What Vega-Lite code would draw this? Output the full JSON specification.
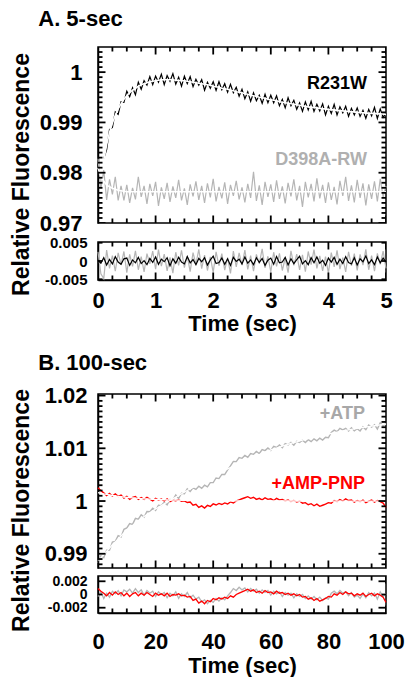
{
"$schema": "https://vega.github.io/schema/vega-lite/v6.json",
"padding": {"left": 9, "top": 8, "right": 5, "bottom": 0},
"config": {
 "font": "Liberation Sans",
 "view": {"stroke": "black", "strokeWidth": 1.5},
 "axis": {"domainColor": "black", "domainWidth": 1.5, "ticks": false, "tickSize": 0, "labelColor": "black", "labelFontWeight": "bold", "labelFont": "Liberation Sans", "titleFont": "Liberation Sans", "titleFontWeight": "bold", "titleColor": "black", "grid": false, "labelOverlap": false, "labelFlush": false},
 "tick": {"thickness": 1.8, "color": "black", "opacity": 1},
 "title": {"font": "Liberation Sans", "fontWeight": "bold", "fontSize": 22, "color": "black", "anchor": "start"}
},
"datasets": {
 "tx5": [{"v":0,"m":"M"},{"v":0.25,"m":"m"},{"v":0.5,"m":"m"},{"v":0.75,"m":"m"},{"v":1,"m":"M"},{"v":1.25,"m":"m"},{"v":1.5,"m":"m"},{"v":1.75,"m":"m"},{"v":2,"m":"M"},{"v":2.25,"m":"m"},{"v":2.5,"m":"m"},{"v":2.75,"m":"m"},{"v":3,"m":"M"},{"v":3.25,"m":"m"},{"v":3.5,"m":"m"},{"v":3.75,"m":"m"},{"v":4,"m":"M"},{"v":4.25,"m":"m"},{"v":4.5,"m":"m"},{"v":4.75,"m":"m"},{"v":5,"m":"M"}],
 "tx100": [{"v":0,"m":"M"},{"v":5,"m":"m"},{"v":10,"m":"m"},{"v":15,"m":"m"},{"v":20,"m":"M"},{"v":25,"m":"m"},{"v":30,"m":"m"},{"v":35,"m":"m"},{"v":40,"m":"M"},{"v":45,"m":"m"},{"v":50,"m":"m"},{"v":55,"m":"m"},{"v":60,"m":"M"},{"v":65,"m":"m"},{"v":70,"m":"m"},{"v":75,"m":"m"},{"v":80,"m":"M"},{"v":85,"m":"m"},{"v":90,"m":"m"},{"v":95,"m":"m"},{"v":100,"m":"M"}],
 "tyA": [{"v":0.97,"m":"M"},{"v":0.971,"m":"m"},{"v":0.972,"m":"m"},{"v":0.973,"m":"m"},{"v":0.974,"m":"m"},{"v":0.975,"m":"m"},{"v":0.976,"m":"m"},{"v":0.977,"m":"m"},{"v":0.978,"m":"m"},{"v":0.979,"m":"m"},{"v":0.98,"m":"M"},{"v":0.981,"m":"m"},{"v":0.982,"m":"m"},{"v":0.983,"m":"m"},{"v":0.984,"m":"m"},{"v":0.985,"m":"m"},{"v":0.986,"m":"m"},{"v":0.987,"m":"m"},{"v":0.988,"m":"m"},{"v":0.989,"m":"m"},{"v":0.99,"m":"M"},{"v":0.991,"m":"m"},{"v":0.992,"m":"m"},{"v":0.993,"m":"m"},{"v":0.994,"m":"m"},{"v":0.995,"m":"m"},{"v":0.996,"m":"m"},{"v":0.997,"m":"m"},{"v":0.998,"m":"m"},{"v":0.999,"m":"m"},{"v":1,"m":"M"},{"v":1.001,"m":"m"},{"v":1.002,"m":"m"},{"v":1.003,"m":"m"},{"v":1.004,"m":"m"}],
 "tyB": [{"v":0.988,"m":"m"},{"v":0.989,"m":"m"},{"v":0.99,"m":"M"},{"v":0.991,"m":"m"},{"v":0.992,"m":"m"},{"v":0.993,"m":"m"},{"v":0.994,"m":"m"},{"v":0.995,"m":"m"},{"v":0.996,"m":"m"},{"v":0.997,"m":"m"},{"v":0.998,"m":"m"},{"v":0.999,"m":"m"},{"v":1,"m":"M"},{"v":1.001,"m":"m"},{"v":1.002,"m":"m"},{"v":1.003,"m":"m"},{"v":1.004,"m":"m"},{"v":1.005,"m":"m"},{"v":1.006,"m":"m"},{"v":1.007,"m":"m"},{"v":1.008,"m":"m"},{"v":1.009,"m":"m"},{"v":1.01,"m":"M"},{"v":1.011,"m":"m"},{"v":1.012,"m":"m"},{"v":1.013,"m":"m"},{"v":1.014,"m":"m"},{"v":1.015,"m":"m"},{"v":1.016,"m":"m"},{"v":1.017,"m":"m"},{"v":1.018,"m":"m"},{"v":1.019,"m":"m"},{"v":1.02,"m":"M"}],
 "tyRA": [{"v":-0.005,"m":"m"},{"v":0,"m":"m"},{"v":0.005,"m":"m"}],
 "tyRB": [{"v":-0.002,"m":"M"},{"v":0,"m":"m"},{"v":0.002,"m":"M"}],
 "A": [
{"t":0,"k":null,"f":null,"g":0.9828,"h":0.981,"rk":0.0002,"rg":0.0025},
{"t":0.05,"k":null,"f":null,"g":0.9768,"h":0.9793,"rk":-0.0006,"rg":-0.0035},
{"t":0.1,"k":0.9828,"f":0.9825,"g":0.9805,"h":0.9783,"rk":0.0009,"rg":-0.0048},
{"t":0.15,"k":0.9846,"f":0.9856,"g":0.9746,"h":0.9776,"rk":-0.0011,"rg":0.003},
{"t":0.2,"k":0.9886,"f":0.988,"g":0.9787,"h":0.9772,"rk":0.0004,"rg":-0.002},
{"t":0.25,"k":0.989,"f":0.9899,"g":0.9757,"h":0.9769,"rk":-0.0008,"rg":0.0015},
{"t":0.3,"k":0.9921,"f":0.9914,"g":0.9792,"h":0.9767,"rk":0.0012,"rg":-0.0028},
{"t":0.35,"k":0.9916,"f":0.9927,"g":0.9745,"h":0.9765,"rk":-0.0003,"rg":0.0022},
{"t":0.4,"k":0.9941,"f":0.9937,"g":0.9774,"h":0.9764,"rk":-0.0009,"rg":-0.001},
{"t":0.45,"k":0.994,"f":0.9946,"g":0.9745,"h":0.9763,"rk":0.0006,"rg":0.0026},
{"t":0.5,"k":0.9962,"f":0.9953,"g":0.9776,"h":0.9762,"rk":0.0008,"rg":-0.0032},
{"t":0.55,"k":0.9951,"f":0.9959,"g":0.974,"h":0.9762,"rk":-0.0012,"rg":0.0018},
{"t":0.6,"k":0.9969,"f":0.9964,"g":0.977,"h":0.9762,"rk":0.0003,"rg":-0.0015},
{"t":0.65,"k":0.9955,"f":0.9968,"g":0.9747,"h":0.9762,"rk":-0.0005,"rg":0.0028},
{"t":0.7,"k":0.998,"f":0.9972,"g":0.9792,"h":0.9762,"rk":0.001,"rg":-0.0024},
{"t":0.75,"k":0.9966,"f":0.9975,"g":0.9752,"h":0.9762,"rk":-0.0007,"rg":0.0012},
{"t":0.8,"k":0.9983,"f":0.9977,"g":0.9774,"h":0.9762,"rk":0.0001,"rg":-0.003},
{"t":0.85,"k":0.9974,"f":0.9979,"g":0.9738,"h":0.9762,"rk":-0.001,"rg":0.002},
{"t":0.9,"k":0.9991,"f":0.9981,"g":0.9778,"h":0.9762,"rk":0.0007,"rg":-0.0008},
{"t":0.95,"k":0.9975,"f":0.9982,"g":0.9754,"h":0.9762,"rk":-0.0004,"rg":0.0027},
{"t":1,"k":0.9992,"f":0.9983,"g":0.9782,"h":0.9762,"rk":0.0011,"rg":-0.0022},
{"t":1.05,"k":0.998,"f":0.9984,"g":0.9734,"h":0.9762,"rk":-0.0009,"rg":0.0031},
{"t":1.1,"k":0.9996,"f":0.9985,"g":0.9771,"h":0.9762,"rk":0.0005,"rg":-0.0014},
{"t":1.15,"k":0.9975,"f":0.9985,"g":0.9748,"h":0.9762,"rk":-0.0002,"rg":0.0019},
{"t":1.2,"k":0.9993,"f":0.9985,"g":0.978,"h":0.9762,"rk":0.0009,"rg":-0.0027},
{"t":1.25,"k":0.9982,"f":0.9985,"g":0.9742,"h":0.9762,"rk":-0.0013,"rg":0.001},
{"t":1.3,"k":0.9997,"f":0.9985,"g":0.9773,"h":0.9762,"rk":0.0006,"rg":-0.0033},
{"t":1.35,"k":0.9976,"f":0.9984,"g":0.975,"h":0.9762,"rk":-0.0006,"rg":0.0024},
{"t":1.4,"k":0.999,"f":0.9984,"g":0.9786,"h":0.9762,"rk":0.001,"rg":-0.0012},
{"t":1.45,"k":0.9972,"f":0.9983,"g":0.9745,"h":0.9762,"rk":-0.0003,"rg":0.0029},
{"t":1.5,"k":0.9992,"f":0.9983,"g":0.9769,"h":0.9762,"rk":-0.0008,"rg":-0.0018},
{"t":1.55,"k":0.9977,"f":0.9982,"g":0.9736,"h":0.9762,"rk":0.0012,"rg":0.0014},
{"t":1.6,"k":0.9991,"f":0.9981,"g":0.9777,"h":0.9762,"rk":-0.0005,"rg":-0.0029},
{"t":1.65,"k":0.9971,"f":0.998,"g":0.9753,"h":0.9762,"rk":0.0004,"rg":0.0023},
{"t":1.7,"k":0.9986,"f":0.9979,"g":0.9783,"h":0.9762,"rk":-0.001,"rg":-0.0009},
{"t":1.75,"k":0.9974,"f":0.9978,"g":0.9746,"h":0.9762,"rk":0.0007,"rg":0.0032},
{"t":1.8,"k":0.9985,"f":0.9977,"g":0.9774,"h":0.9762,"rk":-0.0002,"rg":-0.0021},
{"t":1.85,"k":0.9964,"f":0.9976,"g":0.974,"h":0.9762,"rk":0.0009,"rg":0.0016},
{"t":1.9,"k":0.998,"f":0.9975,"g":0.9779,"h":0.9762,"rk":-0.0011,"rg":-0.0026},
{"t":1.95,"k":0.9968,"f":0.9974,"g":0.9751,"h":0.9762,"rk":0.0003,"rg":0.0011},
{"t":2,"k":0.9981,"f":0.9972,"g":0.9788,"h":0.9762,"rk":0.0013,"rg":-0.0031},
{"t":2.05,"k":0.9964,"f":0.9971,"g":0.9743,"h":0.9762,"rk":-0.0007,"rg":0.0025},
{"t":2.1,"k":0.9981,"f":0.997,"g":0.9772,"h":0.9762,"rk":-0.0004,"rg":-0.0013},
{"t":2.15,"k":0.9965,"f":0.9968,"g":0.9749,"h":0.9762,"rk":0.0008,"rg":0.002},
{"t":2.2,"k":0.9977,"f":0.9967,"g":0.9781,"h":0.9762,"rk":-0.0009,"rg":-0.0025},
{"t":2.25,"k":0.996,"f":0.9966,"g":0.9738,"h":0.9762,"rk":0.0006,"rg":0.0009},
{"t":2.3,"k":0.9976,"f":0.9964,"g":0.9776,"h":0.9762,"rk":-0.0012,"rg":-0.0034},
{"t":2.35,"k":0.9959,"f":0.9963,"g":0.9754,"h":0.9762,"rk":0.001,"rg":0.0027},
{"t":2.4,"k":0.997,"f":0.9961,"g":0.9784,"h":0.9762,"rk":-0.0001,"rg":-0.0016},
{"t":2.45,"k":0.9952,"f":0.996,"g":0.9747,"h":0.9762,"rk":0.0005,"rg":0.0022},
{"t":2.5,"k":0.9966,"f":0.9959,"g":0.9771,"h":0.9762,"rk":-0.0008,"rg":-0.0011},
{"t":2.55,"k":0.9947,"f":0.9957,"g":0.9741,"h":0.9762,"rk":0.0011,"rg":0.003},
{"t":2.6,"k":0.9961,"f":0.9956,"g":0.9778,"h":0.9762,"rk":-0.0006,"rg":-0.0023},
{"t":2.65,"k":0.9942,"f":0.9954,"g":0.975,"h":0.9762,"rk":0.0003,"rg":0.0015},
{"t":2.7,"k":0.9959,"f":0.9953,"g":0.9802,"h":0.9762,"rk":-0.001,"rg":-0.0028},
{"t":2.75,"k":0.9943,"f":0.9952,"g":0.9744,"h":0.9762,"rk":0.0009,"rg":0.0018},
{"t":2.8,"k":0.9954,"f":0.995,"g":0.9775,"h":0.9762,"rk":-0.0004,"rg":-0.0007},
{"t":2.85,"k":0.9938,"f":0.9949,"g":0.9736,"h":0.9762,"rk":0.0007,"rg":0.0033},
{"t":2.9,"k":0.9956,"f":0.9948,"g":0.9782,"h":0.9762,"rk":-0.0012,"rg":-0.0019},
{"t":2.95,"k":0.9939,"f":0.9946,"g":0.9752,"h":0.9762,"rk":0.0002,"rg":0.0013},
{"t":3,"k":0.9954,"f":0.9945,"g":0.9777,"h":0.9762,"rk":0.0008,"rg":-0.003},
{"t":3.05,"k":0.9939,"f":0.9944,"g":0.9742,"h":0.9762,"rk":-0.0009,"rg":0.0024},
{"t":3.1,"k":0.9953,"f":0.9943,"g":0.9785,"h":0.9762,"rk":0.0012,"rg":-0.0015},
{"t":3.15,"k":0.9933,"f":0.9941,"g":0.9748,"h":0.9762,"rk":-0.0005,"rg":0.0021},
{"t":3.2,"k":0.9946,"f":0.994,"g":0.9773,"h":0.9762,"rk":-0.0003,"rg":-0.0026},
{"t":3.25,"k":0.9929,"f":0.9939,"g":0.9739,"h":0.9762,"rk":0.001,"rg":0.0008},
{"t":3.3,"k":0.9949,"f":0.9938,"g":0.978,"h":0.9762,"rk":-0.0011,"rg":-0.0032},
{"t":3.35,"k":0.9933,"f":0.9937,"g":0.9753,"h":0.9762,"rk":0.0006,"rg":0.0028},
{"t":3.4,"k":0.9944,"f":0.9936,"g":0.9787,"h":0.9762,"rk":-0.0007,"rg":-0.0012},
{"t":3.45,"k":0.9926,"f":0.9935,"g":0.9745,"h":0.9762,"rk":0.0004,"rg":0.0019},
{"t":3.5,"k":0.9939,"f":0.9934,"g":0.9774,"h":0.9762,"rk":0.0013,"rg":-0.0024},
{"t":3.55,"k":0.9922,"f":0.9933,"g":0.9732,"h":0.9762,"rk":-0.0008,"rg":0.0017},
{"t":3.6,"k":0.9941,"f":0.9932,"g":0.9782,"h":0.9762,"rk":0.0001,"rg":-0.0029},
{"t":3.65,"k":0.9925,"f":0.9931,"g":0.9751,"h":0.9762,"rk":-0.001,"rg":0.0026},
{"t":3.7,"k":0.9942,"f":0.993,"g":0.9778,"h":0.9762,"rk":0.0009,"rg":-0.001},
{"t":3.75,"k":0.9922,"f":0.993,"g":0.9743,"h":0.9762,"rk":-0.0005,"rg":0.0031},
{"t":3.8,"k":0.9936,"f":0.9929,"g":0.9789,"h":0.9762,"rk":0.0011,"rg":-0.002},
{"t":3.85,"k":0.9923,"f":0.9928,"g":0.9749,"h":0.9762,"rk":-0.0006,"rg":0.0014},
{"t":3.9,"k":0.9937,"f":0.9927,"g":0.9776,"h":0.9762,"rk":0.0002,"rg":-0.0027},
{"t":3.95,"k":0.9915,"f":0.9927,"g":0.974,"h":0.9762,"rk":-0.0012,"rg":0.0012},
{"t":4,"k":0.9932,"f":0.9926,"g":0.9781,"h":0.9762,"rk":0.0008,"rg":-0.0033},
{"t":4.05,"k":0.9918,"f":0.9925,"g":0.9746,"h":0.9762,"rk":-0.0003,"rg":0.0023},
{"t":4.1,"k":0.9936,"f":0.9925,"g":0.9772,"h":0.9762,"rk":0.001,"rg":-0.0016},
{"t":4.15,"k":0.9915,"f":0.9924,"g":0.9737,"h":0.9762,"rk":-0.0009,"rg":0.0029},
{"t":4.2,"k":0.9931,"f":0.9923,"g":0.9784,"h":0.9762,"rk":0.0005,"rg":-0.0022},
{"t":4.25,"k":0.9919,"f":0.9923,"g":0.9754,"h":0.9762,"rk":-0.0007,"rg":0.0009},
{"t":4.3,"k":0.9932,"f":0.9922,"g":0.9792,"h":0.9762,"rk":0.0012,"rg":-0.003},
{"t":4.35,"k":0.9912,"f":0.9922,"g":0.9744,"h":0.9762,"rk":-0.0004,"rg":0.0025},
{"t":4.4,"k":0.9928,"f":0.9921,"g":0.9775,"h":0.9762,"rk":-0.0008,"rg":-0.0013},
{"t":4.45,"k":0.9915,"f":0.9921,"g":0.9741,"h":0.9762,"rk":0.0009,"rg":0.002},
{"t":4.5,"k":0.9929,"f":0.992,"g":0.9786,"h":0.9762,"rk":-0.0011,"rg":-0.0026},
{"t":4.55,"k":0.9912,"f":0.992,"g":0.975,"h":0.9762,"rk":0.0006,"rg":0.0018},
{"t":4.6,"k":0.9924,"f":0.9919,"g":0.9779,"h":0.9762,"rk":-0.0002,"rg":-0.0011},
{"t":4.65,"k":0.9908,"f":0.9919,"g":0.9735,"h":0.9762,"rk":0.0014,"rg":0.0032},
{"t":4.7,"k":0.9926,"f":0.9918,"g":0.9777,"h":0.9762,"rk":-0.0007,"rg":-0.0024},
{"t":4.75,"k":0.9913,"f":0.9918,"g":0.9748,"h":0.9762,"rk":0.0003,"rg":0.0015},
{"t":4.8,"k":0.993,"f":0.9918,"g":0.9783,"h":0.9762,"rk":-0.001,"rg":-0.0028},
{"t":4.85,"k":0.9908,"f":0.9917,"g":0.9743,"h":0.9762,"rk":0.0011,"rg":0.0021},
{"t":4.9,"k":0.9927,"f":0.9917,"g":0.9788,"h":0.9762,"rk":-0.0005,"rg":-0.0009},
{"t":4.95,"k":0.991,"f":0.9917,"g":0.9752,"h":0.9762,"rk":0.0008,"rg":0.0027},
{"t":5,"k":0.9919,"f":0.9916,"g":0.9774,"h":0.9762,"rk":-0.0003,"rg":-0.002}
 ],
 "B": [
{"t":0,"a":0.9883,"fa":0.9886,"p":1.0025,"fp":1.0016,"ra":-0.0003,"rp":0.0009},
{"t":1,"a":0.98962,"fa":0.98922,"p":1.00197,"fp":1.00147,"ra":0.0004,"rp":0.0005},
{"t":2,"a":0.98924,"fa":0.98984,"p":1.00155,"fp":1.00135,"ra":-0.0006,"rp":0.0002},
{"t":3,"a":0.99066,"fa":0.99046,"p":1.00105,"fp":1.00125,"ra":0.0002,"rp":-0.0002},
{"t":4,"a":0.99068,"fa":0.99108,"p":1.00145,"fp":1.00115,"ra":-0.0004,"rp":0.0003},
{"t":5,"a":0.9922,"fa":0.9917,"p":1.00095,"fp":1.00105,"ra":0.0005,"rp":-0.0001},
{"t":6,"a":0.99236,"fa":0.99226,"p":1.00137,"fp":1.00097,"ra":0.0001,"rp":0.0004},
{"t":7,"a":0.99342,"fa":0.99282,"p":1.00089,"fp":1.00089,"ra":0.0006,"rp":0},
{"t":8,"a":0.99318,"fa":0.99338,"p":1.00112,"fp":1.00082,"ra":-0.0002,"rp":0.0003},
{"t":9,"a":0.99464,"fa":0.99394,"p":1.00056,"fp":1.00076,"ra":0.0007,"rp":-0.0002},
{"t":10,"a":0.9949,"fa":0.9945,"p":1.0009,"fp":1.0007,"ra":0.0004,"rp":0.0002},
{"t":11,"a":0.99574,"fa":0.99494,"p":1.00034,"fp":1.00064,"ra":0.0008,"rp":-0.0003},
{"t":12,"a":0.99558,"fa":0.99538,"p":1.00069,"fp":1.00059,"ra":0.0002,"rp":0.0001},
{"t":13,"a":0.99672,"fa":0.99582,"p":1.00084,"fp":1.00054,"ra":0.0009,"rp":0.0003},
{"t":14,"a":0.99656,"fa":0.99626,"p":1.0003,"fp":1.0005,"ra":0.0003,"rp":-0.0002},
{"t":15,"a":0.9974,"fa":0.9967,"p":1.00066,"fp":1.00046,"ra":0.0007,"rp":0.0002},
{"t":16,"a":0.99696,"fa":0.99706,"p":1.00032,"fp":1.00042,"ra":-0.0001,"rp":-0.0001},
{"t":17,"a":0.99802,"fa":0.99742,"p":1.00069,"fp":1.00039,"ra":0.0006,"rp":0.0003},
{"t":18,"a":0.99798,"fa":0.99778,"p":1.00036,"fp":1.00036,"ra":0.0002,"rp":0},
{"t":19,"a":0.99864,"fa":0.99814,"p":1.00003,"fp":1.00033,"ra":0.0005,"rp":-0.0003},
{"t":20,"a":0.9982,"fa":0.9985,"p":1.0005,"fp":1.0003,"ra":-0.0003,"rp":0.0002},
{"t":21,"a":0.99922,"fa":0.99882,"p":1.00018,"fp":1.00028,"ra":0.0004,"rp":-0.0001},
{"t":22,"a":0.99914,"fa":0.99914,"p":1.00036,"fp":1.00026,"ra":0,"rp":0.0001},
{"t":23,"a":0.99976,"fa":0.99946,"p":1.00004,"fp":1.00024,"ra":0.0003,"rp":-0.0002},
{"t":24,"a":0.99928,"fa":0.99978,"p":1.00042,"fp":1.00022,"ra":-0.0005,"rp":0.0002},
{"t":25,"a":1.0003,"fa":1.0001,"p":0.9999,"fp":1.0002,"ra":0.0002,"rp":-0.0003},
{"t":26,"a":1.00022,"fa":1.00042,"p":1.00018,"fp":1.00018,"ra":-0.0002,"rp":0},
{"t":27,"a":1.00114,"fa":1.00074,"p":1.00007,"fp":1.00017,"ra":0.0004,"rp":-0.0001},
{"t":28,"a":1.00046,"fa":1.00106,"p":1.00026,"fp":1.00016,"ra":-0.0006,"rp":0.0001},
{"t":29,"a":1.00148,"fa":1.00138,"p":0.99994,"fp":1.00014,"ra":0.0001,"rp":-0.0002},
{"t":30,"a":1.0014,"fa":1.0017,"p":1.00003,"fp":1.00013,"ra":-0.0003,"rp":-0.0001},
{"t":31,"a":1.0023,"fa":1.002,"p":0.99972,"fp":1.00012,"ra":0.0003,"rp":-0.0004},
{"t":32,"a":1.0018,"fa":1.0023,"p":0.99981,"fp":1.00011,"ra":-0.0005,"rp":-0.0003},
{"t":33,"a":1.0025,"fa":1.0026,"p":0.9992,"fp":1.0001,"ra":-0.0001,"rp":-0.0009},
{"t":34,"a":1.0022,"fa":1.0029,"p":0.99939,"fp":1.00009,"ra":-0.0007,"rp":-0.0007},
{"t":35,"a":1.0028,"fa":1.0032,"p":0.99879,"fp":1.00009,"ra":-0.0004,"rp":-0.0013},
{"t":36,"a":1.0024,"fa":1.0035,"p":0.99908,"fp":1.00008,"ra":-0.0011,"rp":-0.001},
{"t":37,"a":1.003,"fa":1.0038,"p":0.99867,"fp":1.00007,"ra":-0.0008,"rp":-0.0014},
{"t":38,"a":1.0027,"fa":1.0041,"p":0.99917,"fp":1.00007,"ra":-0.0014,"rp":-0.0009},
{"t":39,"a":1.0035,"fa":1.0044,"p":0.99896,"fp":1.00006,"ra":-0.0009,"rp":-0.0011},
{"t":40,"a":1.0035,"fa":1.0047,"p":0.99946,"fp":1.00006,"ra":-0.0012,"rp":-0.0006},
{"t":41,"a":1.00438,"fa":1.00498,"p":0.99925,"fp":1.00005,"ra":-0.0006,"rp":-0.0008},
{"t":42,"a":1.00426,"fa":1.00526,"p":0.99955,"fp":1.00005,"ra":-0.001,"rp":-0.0005},
{"t":43,"a":1.00504,"fa":1.00554,"p":0.99934,"fp":1.00004,"ra":-0.0005,"rp":-0.0007},
{"t":44,"a":1.00502,"fa":1.00582,"p":0.99964,"fp":1.00004,"ra":-0.0008,"rp":-0.0004},
{"t":45,"a":1.0059,"fa":1.0061,"p":0.99944,"fp":1.00004,"ra":-0.0002,"rp":-0.0006},
{"t":46,"a":1.00666,"fa":1.00636,"p":0.99983,"fp":1.00003,"ra":0.0003,"rp":-0.0002},
{"t":47,"a":1.00752,"fa":1.00662,"p":0.99963,"fp":1.00003,"ra":0.0009,"rp":-0.0004},
{"t":48,"a":1.00748,"fa":1.00688,"p":1.00003,"fp":1.00003,"ra":0.0006,"rp":0},
{"t":49,"a":1.00824,"fa":1.00714,"p":1.00023,"fp":1.00003,"ra":0.0011,"rp":0.0002},
{"t":50,"a":1.0081,"fa":1.0074,"p":1.00043,"fp":1.00003,"ra":0.0007,"rp":0.0004},
{"t":51,"a":1.00864,"fa":1.00764,"p":1.00062,"fp":1.00002,"ra":0.001,"rp":0.0006},
{"t":52,"a":1.00828,"fa":1.00788,"p":1.00082,"fp":1.00002,"ra":0.0004,"rp":0.0008},
{"t":53,"a":1.00902,"fa":1.00812,"p":1.00052,"fp":1.00002,"ra":0.0009,"rp":0.0005},
{"t":54,"a":1.00886,"fa":1.00836,"p":1.00072,"fp":1.00002,"ra":0.0005,"rp":0.0007},
{"t":55,"a":1.0094,"fa":1.0086,"p":1.00032,"fp":1.00002,"ra":0.0008,"rp":0.0003},
{"t":56,"a":1.00902,"fa":1.00882,"p":1.00052,"fp":1.00002,"ra":0.0002,"rp":0.0005},
{"t":57,"a":1.00974,"fa":1.00904,"p":1.00022,"fp":1.00002,"ra":0.0007,"rp":0.0002},
{"t":58,"a":1.00956,"fa":1.00926,"p":1.00062,"fp":1.00002,"ra":0.0003,"rp":0.0006},
{"t":59,"a":1.01008,"fa":1.00948,"p":1.00032,"fp":1.00002,"ra":0.0006,"rp":0.0003},
{"t":60,"a":1.0096,"fa":1.0097,"p":1.00042,"fp":1.00002,"ra":-0.0001,"rp":0.0004},
{"t":61,"a":1.01038,"fa":1.00988,"p":1.00011,"fp":1.00001,"ra":0.0005,"rp":0.0001},
{"t":62,"a":1.01016,"fa":1.01006,"p":1.00051,"fp":1.00001,"ra":0.0001,"rp":0.0005},
{"t":63,"a":1.01064,"fa":1.01024,"p":1.00021,"fp":1.00001,"ra":0.0004,"rp":0.0002},
{"t":64,"a":1.01012,"fa":1.01042,"p":1.00031,"fp":1.00001,"ra":-0.0003,"rp":0.0003},
{"t":65,"a":1.0109,"fa":1.0106,"p":1.00001,"fp":1.00001,"ra":0.0003,"rp":0},
{"t":66,"a":1.01066,"fa":1.01076,"p":1.00021,"fp":1.00001,"ra":-0.0001,"rp":0.0002},
{"t":67,"a":1.01112,"fa":1.01092,"p":0.99991,"fp":1.00001,"ra":0.0002,"rp":-0.0001},
{"t":68,"a":1.01058,"fa":1.01108,"p":1.00011,"fp":1.00001,"ra":-0.0005,"rp":0.0001},
{"t":69,"a":1.01134,"fa":1.01124,"p":0.99981,"fp":1.00001,"ra":0.0001,"rp":-0.0002},
{"t":70,"a":1.0111,"fa":1.0114,"p":1.00001,"fp":1.00001,"ra":-0.0003,"rp":0},
{"t":71,"a":1.01154,"fa":1.01154,"p":0.9996,"fp":1,"ra":0,"rp":-0.0004},
{"t":72,"a":1.01108,"fa":1.01168,"p":0.9997,"fp":1,"ra":-0.0006,"rp":-0.0003},
{"t":73,"a":1.01162,"fa":1.01182,"p":0.9993,"fp":1,"ra":-0.0002,"rp":-0.0007},
{"t":74,"a":1.01126,"fa":1.01196,"p":0.9995,"fp":1,"ra":-0.0007,"rp":-0.0005},
{"t":75,"a":1.0118,"fa":1.0121,"p":0.9991,"fp":1,"ra":-0.0003,"rp":-0.0009},
{"t":76,"a":1.01142,"fa":1.01222,"p":0.9994,"fp":1,"ra":-0.0008,"rp":-0.0006},
{"t":77,"a":1.01194,"fa":1.01234,"p":0.999,"fp":1,"ra":-0.0004,"rp":-0.001},
{"t":78,"a":1.01156,"fa":1.01246,"p":0.9992,"fp":1,"ra":-0.0009,"rp":-0.0008},
{"t":79,"a":1.01208,"fa":1.01258,"p":0.9994,"fp":1,"ra":-0.0005,"rp":-0.0006},
{"t":80,"a":1.012,"fa":1.0127,"p":0.9997,"fp":1,"ra":-0.0007,"rp":-0.0003},
{"t":81,"a":1.01302,"fa":1.01282,"p":0.9996,"fp":1,"ra":0.0002,"rp":-0.0004},
{"t":82,"a":1.01344,"fa":1.01294,"p":1.0001,"fp":1,"ra":0.0005,"rp":0.0001},
{"t":83,"a":1.01316,"fa":1.01306,"p":0.9999,"fp":1,"ra":0.0001,"rp":-0.0001},
{"t":84,"a":1.01378,"fa":1.01318,"p":1.0003,"fp":1,"ra":0.0006,"rp":0.0003},
{"t":85,"a":1.0135,"fa":1.0133,"p":1,"fp":1,"ra":0.0002,"rp":0},
{"t":86,"a":1.0138,"fa":1.0134,"p":1.0004,"fp":1,"ra":0.0004,"rp":0.0004},
{"t":87,"a":1.0133,"fa":1.0135,"p":1.0001,"fp":1,"ra":-0.0002,"rp":0.0001},
{"t":88,"a":1.0139,"fa":1.0136,"p":1.0002,"fp":1,"ra":0.0003,"rp":0.0002},
{"t":89,"a":1.0133,"fa":1.0137,"p":0.9998,"fp":1,"ra":-0.0004,"rp":-0.0002},
{"t":90,"a":1.0137,"fa":1.0138,"p":1.0001,"fp":1,"ra":-0.0001,"rp":0.0001},
{"t":91,"a":1.01328,"fa":1.01388,"p":0.9999,"fp":1,"ra":-0.0006,"rp":-0.0001},
{"t":92,"a":1.01406,"fa":1.01396,"p":1.0002,"fp":1,"ra":0.0001,"rp":0.0002},
{"t":93,"a":1.01354,"fa":1.01404,"p":0.9997,"fp":1,"ra":-0.0005,"rp":-0.0003},
{"t":94,"a":1.01442,"fa":1.01412,"p":1,"fp":1,"ra":0.0003,"rp":0},
{"t":95,"a":1.014,"fa":1.0142,"p":1.0002,"fp":1,"ra":-0.0002,"rp":0.0002},
{"t":96,"a":1.01448,"fa":1.01428,"p":0.9998,"fp":1,"ra":0.0002,"rp":-0.0002},
{"t":97,"a":1.01366,"fa":1.01436,"p":1.0001,"fp":1,"ra":-0.0007,"rp":0.0001},
{"t":98,"a":1.01484,"fa":1.01444,"p":0.9999,"fp":1,"ra":0.0004,"rp":-0.0001},
{"t":99,"a":1.01422,"fa":1.01452,"p":0.9996,"fp":1,"ra":-0.0003,"rp":-0.0004},
{"t":100,"a":1.0147,"fa":1.0146,"p":0.9988,"fp":1,"ra":0.0001,"rp":-0.0012}
 ]
},
"spacing": 16,
"vconcat": [
 {
  "title": {"text": "A. 5-sec", "anchor": "start", "dx": 29, "offset": 15},
  "bounds": "flush",
  "spacing": 19,
  "vconcat": [
   {
    "width": 288, "height": 176,
    "data": {"name": "A"},
    "resolve": {"axis": {"x": "independent", "y": "independent"}},
    "layer": [
     {"mark": {"type": "line", "color": "#b5b5b5", "strokeWidth": 1.2},
      "encoding": {
       "x": {"field": "t", "type": "quantitative", "scale": {"domain": [0, 5], "nice": false}, "axis": null},
       "y": {"field": "g", "type": "quantitative", "scale": {"domain": [0.97, 1.005], "nice": false, "zero": false},
             "axis": {"orient": "left", "values": [0.97, 0.98, 0.99, 1], "labelExpr": "'' + round(datum.value*100)/100",
                      "labelFontSize": 22, "labelPadding": 16,
                      "title": "Relative Fluorescence", "titleFontSize": 23, "titleX": -70, "titleY": 127, "titleAngle": -90, "titleBaseline": "alphabetic", "titleAlign": "center"}}
      }},
     {"mark": {"type": "line", "color": "white", "strokeWidth": 1.6},
      "encoding": {"x": {"field": "t", "type": "quantitative", "axis": null}, "y": {"field": "h", "type": "quantitative", "axis": null}}},
     {"mark": {"type": "line", "color": "black", "strokeWidth": 1.2},
      "encoding": {"x": {"field": "t", "type": "quantitative", "axis": null}, "y": {"field": "k", "type": "quantitative", "axis": null}}},
     {"mark": {"type": "line", "color": "white", "strokeWidth": 1.6},
      "encoding": {"x": {"field": "t", "type": "quantitative", "axis": null}, "y": {"field": "f", "type": "quantitative", "axis": null}}},
     {"data": {"values": [{"t": 4.67, "y": 0.9976, "label": "R231W"}]},
      "mark": {"type": "text", "align": "right", "baseline": "middle", "fontSize": 18, "fontWeight": "bold", "color": "black"},
      "encoding": {"x": {"field": "t", "type": "quantitative", "axis": null}, "y": {"field": "y", "type": "quantitative", "axis": null}, "text": {"field": "label"}}},
     {"data": {"values": [{"t": 4.67, "y": 0.9825, "label": "D398A-RW"}]},
      "mark": {"type": "text", "align": "right", "baseline": "middle", "fontSize": 18, "fontWeight": "bold", "color": "#b0b0b0"},
      "encoding": {"x": {"field": "t", "type": "quantitative", "axis": null}, "y": {"field": "y", "type": "quantitative", "axis": null}, "text": {"field": "label"}}},
     {"data": {"name": "tx5"}, "mark": {"type": "tick", "orient": "vertical", "clip": true, "color": "black", "thickness": 1.8},
      "encoding": {"x": {"field": "v", "type": "quantitative", "axis": null}, "y": {"datum": 0.97, "type": "quantitative", "axis": null}, "size": {"field": "m", "type": "nominal", "scale": {"domain": ["m", "M"], "range": [9, 15]}, "legend": null}}},
     {"data": {"name": "tx5"}, "mark": {"type": "tick", "orient": "vertical", "clip": true, "color": "black", "thickness": 1.8},
      "encoding": {"x": {"field": "v", "type": "quantitative", "axis": null}, "y": {"datum": 1.005, "type": "quantitative", "axis": null}, "size": {"field": "m", "type": "nominal", "scale": {"domain": ["m", "M"], "range": [9, 15]}, "legend": null}}},
     {"data": {"name": "tyA"}, "mark": {"type": "tick", "orient": "horizontal", "clip": true, "color": "black", "thickness": 1.8},
      "encoding": {"y": {"field": "v", "type": "quantitative", "axis": null}, "x": {"datum": 0, "type": "quantitative", "axis": null}, "size": {"field": "m", "type": "nominal", "scale": {"domain": ["m", "M"], "range": [9, 15]}, "legend": null}}},
     {"data": {"name": "tyA"}, "mark": {"type": "tick", "orient": "horizontal", "clip": true, "color": "black", "thickness": 1.8},
      "encoding": {"y": {"field": "v", "type": "quantitative", "axis": null}, "x": {"datum": 5, "type": "quantitative", "axis": null}, "size": {"field": "m", "type": "nominal", "scale": {"domain": ["m", "M"], "range": [9, 15]}, "legend": null}}}
    ]
   },
   {
    "width": 288, "height": 38,
    "data": {"name": "A"},
    "resolve": {"axis": {"x": "independent", "y": "independent"}},
    "layer": [
     {"mark": {"type": "line", "color": "#b5b5b5", "strokeWidth": 1.2},
      "encoding": {
       "x": {"field": "t", "type": "quantitative", "scale": {"domain": [0, 5], "nice": false},
             "axis": {"orient": "bottom", "values": [0, 1, 2, 3, 4, 5], "labelFontSize": 22, "labelPadding": 10, "title": "Time (sec)", "titleFontSize": 22, "titlePadding": 2}},
       "y": {"field": "rg", "type": "quantitative", "scale": {"domain": [-0.0052, 0.0052], "nice": false, "zero": false},
             "axis": {"orient": "left", "values": [-0.005, 0, 0.005], "labelExpr": "datum.value > 0.001 ? '0.005' : (datum.value < -0.001 ? '-0.005' : '0')", "labelFontSize": 15, "labelPadding": 11, "title": null}}
      }},
     {"mark": {"type": "line", "color": "black", "strokeWidth": 1.2},
      "encoding": {"x": {"field": "t", "type": "quantitative", "axis": null}, "y": {"field": "rk", "type": "quantitative", "axis": null}}},
     {"data": {"name": "tx5"}, "mark": {"type": "tick", "orient": "vertical", "clip": true, "color": "black", "thickness": 1.8},
      "encoding": {"x": {"field": "v", "type": "quantitative", "axis": null}, "y": {"datum": -0.0052, "type": "quantitative", "axis": null}, "size": {"field": "m", "type": "nominal", "scale": {"domain": ["m", "M"], "range": [9, 15]}, "legend": null}}},
     {"data": {"name": "tx5"}, "mark": {"type": "tick", "orient": "vertical", "clip": true, "color": "black", "thickness": 1.8},
      "encoding": {"x": {"field": "v", "type": "quantitative", "axis": null}, "y": {"datum": 0.0052, "type": "quantitative", "axis": null}, "size": {"field": "m", "type": "nominal", "scale": {"domain": ["m", "M"], "range": [9, 15]}, "legend": null}}},
     {"data": {"name": "tyRA"}, "mark": {"type": "tick", "orient": "horizontal", "clip": true, "color": "black", "thickness": 1.8},
      "encoding": {"y": {"field": "v", "type": "quantitative", "axis": null}, "x": {"datum": 0, "type": "quantitative", "axis": null}, "size": {"field": "m", "type": "nominal", "scale": {"domain": ["m", "M"], "range": [9, 15]}, "legend": null}}},
     {"data": {"name": "tyRA"}, "mark": {"type": "tick", "orient": "horizontal", "clip": true, "color": "black", "thickness": 1.8},
      "encoding": {"y": {"field": "v", "type": "quantitative", "axis": null}, "x": {"datum": 5, "type": "quantitative", "axis": null}, "size": {"field": "m", "type": "nominal", "scale": {"domain": ["m", "M"], "range": [9, 15]}, "legend": null}}}
    ]
   }
  ]
 },
 {
  "title": {"text": "B. 100-sec", "anchor": "start", "dx": 29, "offset": 9},
  "bounds": "flush",
  "spacing": 8,
  "vconcat": [
   {
    "width": 288, "height": 174,
    "data": {"name": "B"},
    "resolve": {"axis": {"x": "independent", "y": "independent"}},
    "layer": [
     {"mark": {"type": "line", "color": "#b5b5b5", "strokeWidth": 1.4},
      "encoding": {
       "x": {"field": "t", "type": "quantitative", "scale": {"domain": [0, 100], "nice": false}, "axis": null},
       "y": {"field": "a", "type": "quantitative", "scale": {"domain": [0.9873, 1.0203], "nice": false, "zero": false},
             "axis": {"orient": "left", "values": [0.99, 1, 1.01, 1.02], "labelExpr": "'' + round(datum.value*100)/100",
                      "labelFontSize": 22, "labelPadding": 11,
                      "title": "Relative Fluorescence", "titleFontSize": 23, "titleX": -70, "titleY": 116, "titleAngle": -90, "titleBaseline": "alphabetic", "titleAlign": "center"}}
      }},
     {"mark": {"type": "line", "color": "#ff0000", "strokeWidth": 1.4},
      "encoding": {"x": {"field": "t", "type": "quantitative", "axis": null}, "y": {"field": "p", "type": "quantitative", "axis": null}}},
     {"mark": {"type": "line", "color": "white", "strokeWidth": 1.3},
      "encoding": {"x": {"field": "t", "type": "quantitative", "axis": null}, "y": {"field": "fa", "type": "quantitative", "axis": null}}},
     {"mark": {"type": "line", "color": "white", "strokeWidth": 1.3},
      "encoding": {"x": {"field": "t", "type": "quantitative", "axis": null}, "y": {"field": "fp", "type": "quantitative", "axis": null}}},
     {"data": {"values": [{"t": 92.7, "y": 1.0165, "label": "+ATP"}]},
      "mark": {"type": "text", "align": "right", "baseline": "middle", "fontSize": 18, "fontWeight": "bold", "color": "#a8a8a8"},
      "encoding": {"x": {"field": "t", "type": "quantitative", "axis": null}, "y": {"field": "y", "type": "quantitative", "axis": null}, "text": {"field": "label"}}},
     {"data": {"values": [{"t": 92.7, "y": 1.0032, "label": "+AMP-PNP"}]},
      "mark": {"type": "text", "align": "right", "baseline": "middle", "fontSize": 18, "fontWeight": "bold", "color": "#ff0000"},
      "encoding": {"x": {"field": "t", "type": "quantitative", "axis": null}, "y": {"field": "y", "type": "quantitative", "axis": null}, "text": {"field": "label"}}},
     {"data": {"name": "tx100"}, "mark": {"type": "tick", "orient": "vertical", "clip": true, "color": "black", "thickness": 1.8},
      "encoding": {"x": {"field": "v", "type": "quantitative", "axis": null}, "y": {"datum": 0.9873, "type": "quantitative", "axis": null}, "size": {"field": "m", "type": "nominal", "scale": {"domain": ["m", "M"], "range": [9, 15]}, "legend": null}}},
     {"data": {"name": "tx100"}, "mark": {"type": "tick", "orient": "vertical", "clip": true, "color": "black", "thickness": 1.8},
      "encoding": {"x": {"field": "v", "type": "quantitative", "axis": null}, "y": {"datum": 1.0203, "type": "quantitative", "axis": null}, "size": {"field": "m", "type": "nominal", "scale": {"domain": ["m", "M"], "range": [9, 15]}, "legend": null}}},
     {"data": {"name": "tyB"}, "mark": {"type": "tick", "orient": "horizontal", "clip": true, "color": "black", "thickness": 1.8},
      "encoding": {"y": {"field": "v", "type": "quantitative", "axis": null}, "x": {"datum": 0, "type": "quantitative", "axis": null}, "size": {"field": "m", "type": "nominal", "scale": {"domain": ["m", "M"], "range": [9, 15]}, "legend": null}}},
     {"data": {"name": "tyB"}, "mark": {"type": "tick", "orient": "horizontal", "clip": true, "color": "black", "thickness": 1.8},
      "encoding": {"y": {"field": "v", "type": "quantitative", "axis": null}, "x": {"datum": 100, "type": "quantitative", "axis": null}, "size": {"field": "m", "type": "nominal", "scale": {"domain": ["m", "M"], "range": [9, 15]}, "legend": null}}}
    ]
   },
   {
    "width": 288, "height": 37,
    "data": {"name": "B"},
    "resolve": {"axis": {"x": "independent", "y": "independent"}},
    "layer": [
     {"mark": {"type": "line", "color": "#b5b5b5", "strokeWidth": 1.3},
      "encoding": {
       "x": {"field": "t", "type": "quantitative", "scale": {"domain": [0, 100], "nice": false},
             "axis": {"orient": "bottom", "values": [0, 20, 40, 60, 80, 100], "labelFontSize": 22, "labelPadding": 18, "title": "Time (sec)", "titleFontSize": 22, "titlePadding": 3}},
       "y": {"field": "ra", "type": "quantitative", "scale": {"domain": [-0.0028, 0.0028], "nice": false, "zero": false},
             "axis": {"orient": "left", "values": [-0.002, 0, 0.002], "labelExpr": "datum.value > 0.001 ? '0.002' : (datum.value < -0.001 ? '-0.002' : '0')", "labelFontSize": 14, "labelPadding": 11, "title": null}}
      }},
     {"mark": {"type": "line", "color": "#ff0000", "strokeWidth": 1.3},
      "encoding": {"x": {"field": "t", "type": "quantitative", "axis": null}, "y": {"field": "rp", "type": "quantitative", "axis": null}}},
     {"data": {"name": "tx100"}, "mark": {"type": "tick", "orient": "vertical", "clip": true, "color": "black", "thickness": 1.8},
      "encoding": {"x": {"field": "v", "type": "quantitative", "axis": null}, "y": {"datum": -0.0028, "type": "quantitative", "axis": null}, "size": {"field": "m", "type": "nominal", "scale": {"domain": ["m", "M"], "range": [9, 15]}, "legend": null}}},
     {"data": {"name": "tx100"}, "mark": {"type": "tick", "orient": "vertical", "clip": true, "color": "black", "thickness": 1.8},
      "encoding": {"x": {"field": "v", "type": "quantitative", "axis": null}, "y": {"datum": 0.0028, "type": "quantitative", "axis": null}, "size": {"field": "m", "type": "nominal", "scale": {"domain": ["m", "M"], "range": [9, 15]}, "legend": null}}},
     {"data": {"name": "tyRB"}, "mark": {"type": "tick", "orient": "horizontal", "clip": true, "color": "black", "thickness": 1.8},
      "encoding": {"y": {"field": "v", "type": "quantitative", "axis": null}, "x": {"datum": 0, "type": "quantitative", "axis": null}, "size": {"field": "m", "type": "nominal", "scale": {"domain": ["m", "M"], "range": [9, 15]}, "legend": null}}},
     {"data": {"name": "tyRB"}, "mark": {"type": "tick", "orient": "horizontal", "clip": true, "color": "black", "thickness": 1.8},
      "encoding": {"y": {"field": "v", "type": "quantitative", "axis": null}, "x": {"datum": 100, "type": "quantitative", "axis": null}, "size": {"field": "m", "type": "nominal", "scale": {"domain": ["m", "M"], "range": [9, 15]}, "legend": null}}}
    ]
   }
  ]
 }
]
}
